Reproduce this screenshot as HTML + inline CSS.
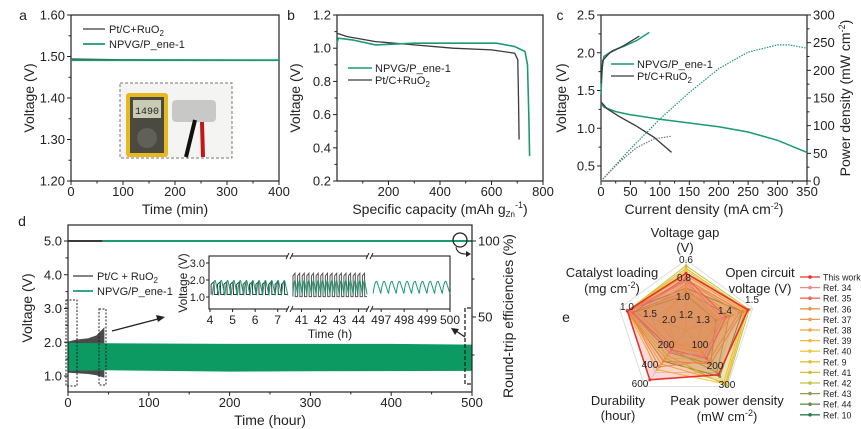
<!DOCTYPE html>
<html><head><meta charset="utf-8"><style>
html,body{margin:0;padding:0;background:#fff;}
svg{display:block;font-family:"Liberation Sans",Arial,sans-serif;}
text{fill:#222;}
</style></head><body>
<svg id="fig" width="861" height="429" viewBox="0 0 861 429"></svg>
<script>
// ---------- DATA ----------
// panel a
const aNpvg = [[0,1.491],[400,1.491]];
const aPtc  = [[0,1.494],[100,1.492],[400,1.491]];
// panel b
const bNpvg = [[0,1.03],[5,1.06],[60,1.05],[150,1.02],[300,1.03],[500,1.03],[620,1.03],[690,1.01],[730,0.98],[740,0.9],[745,0.6],[748,0.35]];
const bPtc  = [[0,1.09],[40,1.07],[150,1.04],[300,1.02],[450,1.0],[600,0.99],[690,0.97],[702,0.93],[705,0.7],[707,0.45]];
// panel c
const cNpvgDis = [[0,1.33],[5,1.28],[25,1.22],[50,1.18],[100,1.12],[150,1.07],[200,1.02],[250,0.95],[300,0.84],[350,0.68]];
const cPtcDis  = [[0,1.35],[10,1.26],[30,1.16],[60,1.03],[90,0.88],[120,0.68]];
const cNpvgChg = [[0,1.45],[2,1.8],[5,1.95],[20,2.03],[40,2.09],[60,2.16],[82,2.27]];
const cPtcChg  = [[0,1.6],[3,1.9],[15,2.0],[40,2.1],[65,2.22]];
const cNpvgPow = [[0,0],[50,58],[100,112],[150,160],[200,203],[250,233],[300,246],[320,246],[350,240]];
const cPtcPow  = [[0,0],[30,33],[60,60],[90,76],[120,81]];
// panel d
const dPtcUpper = [[0,2.02],[10,2.08],[25,2.12],[35,2.2],[45,2.45]];
const dPtcLower = [[0,1.1],[10,1.08],[25,1.06],[35,1.02],[45,0.95]];
const dNpvgUpper= [[0,1.98],[50,1.97],[200,1.95],[400,1.95],[500,1.93]];
const dNpvgLower= [[0,1.15],[50,1.17],[200,1.13],[300,1.14],[500,1.15]];
const dEffPtc = [[0,100],[43,100]];
const dEffNpvg= [[43,100],[500,100]];
// inset cycles
const inset1Cycles = 12, inset2Cycles = 16, inset3Cycles = 10;
const inset1Hi=1.95, inset1Lo=1.1, inset2HiPtc=2.4, inset2LoPtc=1.02, inset2Hi=1.95, inset2Lo=1.15, inset3Hi=1.9, inset3Lo=1.2;
// panel e radar (normalized 0..1 per axis: gap, OCV, power, durability, loading)
const radarAxes = ["gap","ocv","power","durability","loading"];
const radarNames = ["This work","Ref. 34","Ref. 35","Ref. 36","Ref. 37","Ref. 38","Ref. 39","Ref. 40","Ref. 9","Ref. 41","Ref. 42","Ref. 43","Ref. 44","Ref. 10"];
const radarColors = ["#e8302c","#e88a8a","#ee6a5a","#f0904a","#ee9a50","#f0a840","#f2b840","#f0c840","#e8c030","#d8c030","#c8c040","#8aa050","#6a9050","#2e7a50"];
const radarVals = [
 [0.81,0.93,0.79,0.88,0.88],
 [0.70,0.55,0.45,0.40,0.85],
 [0.75,0.60,0.50,0.35,0.80],
 [0.72,0.85,0.60,0.55,0.88],
 [0.70,0.80,0.55,0.65,0.86],
 [0.65,0.70,0.40,0.30,0.70],
 [0.78,0.88,0.92,0.60,0.88],
 [0.85,0.90,0.95,0.70,0.88],
 [0.60,0.50,0.35,0.25,0.40],
 [0.88,0.92,0.96,0.50,0.88],
 [0.92,0.95,0.98,0.45,0.88],
 [0.55,0.65,0.75,0.35,0.82],
 [0.50,0.45,0.60,0.40,0.80],
 [0.60,0.85,0.82,0.55,0.88]
];

// ---------- HELPERS ----------
const NS="http://www.w3.org/2000/svg";
const svg=document.getElementById('fig');
function el(tag,attrs,parent){const e=document.createElementNS(NS,tag);for(const k in attrs)e.setAttribute(k,attrs[k]);(parent||svg).appendChild(e);return e;}
function txt(x,y,s,size,anchor,parent,extra){const t=el('text',Object.assign({x:x,y:y,'font-size':size,'text-anchor':anchor||'middle'},extra||{}),parent);t.innerHTML=s;return t;}
function lin(d0,d1,r0,r1){return v=>r0+(v-d0)*(r1-r0)/(d1-d0);}
function path(pts,sx,sy){return pts.map((p,i)=>(i?'L':'M')+sx(p[0]).toFixed(1)+','+sy(p[1]).toFixed(1)).join('');}
const GREEN="#1a9b6e", DARK="#3a3a3a";

function frame(x0,y0,x1,y1,name){const r=el('rect',{x:x0,y:y0,width:x1-x0,height:y1-y0,fill:'none',stroke:'#222','stroke-width':1.2});}
function xTicks(vals,sx,y,size,minor){vals.forEach(v=>{el('line',{x1:sx(v),x2:sx(v),y1:y,y2:y+4,stroke:'#222'});txt(sx(v),y+15,String(v),size);});(minor||[]).forEach(v=>el('line',{x1:sx(v),x2:sx(v),y1:y,y2:y+2.5,stroke:'#222'}));}
function yTicks(vals,sy,x,size,labels,minor,right){vals.forEach((v,i)=>{el('line',{x1:x,x2:right?x+4:x-4,y1:sy(v),y2:sy(v),stroke:'#222'});txt(right?x+6:x-6,sy(v)+4.5,labels?labels[i]:String(v),size,right?'start':'end');});(minor||[]).forEach(v=>el('line',{x1:x,x2:right?x+2.5:x-2.5,y1:sy(v),y2:sy(v),stroke:'#222'}));}
function vlabel(x,y,s,size,name){const t=txt(x,y,s,size,'middle',null,{transform:'rotate(-90 '+x+' '+y+')'});return t;}

// ---------- PANEL A ----------
{const sx=lin(0,400,71,279), sy=lin(1.2,1.6,181,15);
txt(23,20,'a',14,'middle');
const ph=el('g',{});
el('rect',{x:120,y:83,width:112,height:75,fill:'#f4f4f2',stroke:'#777','stroke-dasharray':'3,2'},ph);
el('rect',{x:126,y:93,width:42,height:64,rx:3,fill:'#e8b820'},ph);
el('rect',{x:130,y:97,width:34,height:56,fill:'#4a4a40'},ph);
el('rect',{x:133,y:100,width:28,height:18,fill:'#c8ccb4'},ph);
txt(147,114,'1490',10,'middle',ph,{'font-family':'Liberation Mono',fill:'#222'});
el('circle',{cx:147,cy:138,r:10,fill:'#606058'},ph);
el('rect',{x:172,y:100,width:44,height:22,rx:4,fill:'#c8c8c8'},ph);
el('line',{x1:195,y1:120,x2:186,y2:157,stroke:'#111','stroke-width':4},ph);
el('line',{x1:202,y1:122,x2:203,y2:157,stroke:'#c01818','stroke-width':4},ph);
frame(71,15,279,181,'plot-frame-a');
yTicks([1.2,1.3,1.4,1.5,1.6],sy,71,13,['1.20','1.30','1.40','1.50','1.60'],[1.25,1.35,1.45,1.55]);
xTicks([0,100,200,300,400],sx,181,13,[50,150,250,350]);
const l1=el('path',{d:path(aPtc,sx,sy),fill:'none',stroke:DARK,'stroke-width':1.3});
const l2=el('path',{d:path(aNpvg,sx,sy),fill:'none',stroke:GREEN,'stroke-width':1.8});
el('line',{x1:83,x2:105,y1:29,y2:29,stroke:DARK,'stroke-width':1.3});txt(109,33,'Pt/C+RuO<tspan font-size="8" dy="3">2</tspan>',11,'start');
el('line',{x1:83,x2:105,y1:44,y2:44,stroke:GREEN,'stroke-width':1.8});txt(109,48,'NPVG/P_ene-1',11,'start');
vlabel(34,98,'Voltage (V)',14,'y-axis-title-a');
txt(175,214,'Time (min)',14);
}
// ---------- PANEL B ----------
{const sx=lin(0,800,337,543), sy=lin(0.2,1.2,181,15);
txt(291,20,'b',14);
frame(337,15,543,181,'plot-frame-b');
yTicks([0.2,0.4,0.6,0.8,1.0,1.2],sy,337,13,['0.2','0.4','0.6','0.8','1.0','1.2'],[0.3,0.5,0.7,0.9,1.1]);
xTicks([200,400,600,800],sx,181,13,[100,300,500,700]);
const l1=el('path',{d:path(bPtc,sx,sy),fill:'none',stroke:DARK,'stroke-width':1.3});
const l2=el('path',{d:path(bNpvg,sx,sy),fill:'none',stroke:GREEN,'stroke-width':1.6});
el('line',{x1:348,x2:372,y1:68,y2:68,stroke:GREEN,'stroke-width':1.6});txt(375,72,'NPVG/P_ene-1',11,'start');
el('line',{x1:348,x2:372,y1:80,y2:80,stroke:DARK,'stroke-width':1.3});txt(375,84,'Pt/C+RuO<tspan font-size="8" dy="3">2</tspan>',11,'start');
vlabel(300,98,'Voltage (V)',14,'y-axis-title-b');
txt(440,214,'Specific capacity (mAh g<tspan font-size="8" dy="3">Zn</tspan><tspan dy="-9" font-size="9">-1</tspan><tspan dy="6">)</tspan>',14);
}
// ---------- PANEL C ----------
{const sx=lin(0,350,601,807), sy=lin(0.5,2.5,166,15), sp=lin(0,300,181,15);
txt(560,20,'c',14);
frame(601,15,807,181,'plot-frame-c');
yTicks([0.5,1.0,1.5,2.0,2.5],sy,601,13,['0.5','1.0','1.5','2.0','2.5'],[0.75,1.25,1.75,2.25]);
yTicks([0,50,100,150,200,250,300],sp,807,13,null,[25,75,125,175,225,275],true);
xTicks([0,50,100,150,200,250,300,350],sx,181,13,[25,75,125,175,225,275,325]);
[[cNpvgDis,GREEN,1.5,'',"line-npvg-discharge"],[cPtcDis,DARK,1.3,'','line-ptc-discharge'],[cNpvgChg,GREEN,1.5,'','line-npvg-charge'],[cPtcChg,DARK,1.3,'','line-ptc-charge']].forEach(s=>{const p=el('path',{d:path(s[0],sx,sy),fill:'none',stroke:s[1],'stroke-width':s[2]});});
const p1=el('path',{d:path(cNpvgPow,sx,sp),fill:'none',stroke:GREEN,'stroke-width':1.2,'stroke-dasharray':'1.5,1.2'});
const p2=el('path',{d:path(cPtcPow,sx,sp),fill:'none',stroke:'#777','stroke-width':1.2,'stroke-dasharray':'1.5,1.2'});
el('line',{x1:611,x2:634,y1:64,y2:64,stroke:GREEN,'stroke-width':1.5});txt(637,68,'NPVG/P_ene-1',11,'start');
el('line',{x1:611,x2:634,y1:76,y2:76,stroke:DARK,'stroke-width':1.3});txt(637,80,'Pt/C+RuO<tspan font-size="8" dy="3">2</tspan>',11,'start');
vlabel(566,98,'Voltage (V)',14,'y-axis-title-c');
vlabel(850,98,'Power density (mW cm<tspan font-size="9" dy="-5">-2</tspan><tspan dy="5">)</tspan>',14,'y-axis-title-power');
txt(704,214,'Current density (mA cm<tspan font-size="9" dy="-5">-2</tspan><tspan dy="5">)</tspan>',14);
}
// ---------- PANEL D ----------
{const sx=lin(0,500,68,472), sy=lin(1.0,5.0,376,241), se=lin(0,100,393,241);
txt(22,226,'d',14);
const pb=el('path',{d:path(dPtcUpper.concat(dPtcLower.slice().reverse()),sx,sy)+'Z',fill:'#4a4a4a'});
const pg=el('path',{d:path(dNpvgUpper.concat(dNpvgLower.slice().reverse()),sx,sy)+'Z',fill:'#0c9a62'});
const e1=el('path',{d:path(dEffPtc,sx,se),stroke:DARK,'stroke-width':2,fill:'none'});
const e2=el('path',{d:path(dEffNpvg,sx,se),stroke:GREEN,'stroke-width':2,fill:'none'});
frame(68,225,472,392,'plot-frame-d');
yTicks([1,2,3,4,5],sy,68,13,['1.0','2.0','3.0','4.0','5.0'],[1.5,2.5,3.5,4.5]);
yTicks([50,100],se,472,13,null,[25,75],true);
xTicks([0,100,200,300,400,500],sx,392,13,[50,150,250,350,450]);
el('rect',{x:66,y:300,width:11,height:86,fill:'none',stroke:'#222','stroke-dasharray':'2,1.5'});
el('rect',{x:99,y:309,width:7,height:76,fill:'none',stroke:'#222','stroke-dasharray':'2,1.5'});
el('path',{d:'M471,308 L465,308 L465,384 L471,384',fill:'none',stroke:'#222','stroke-dasharray':'4,2','stroke-width':1.3});
el('circle',{cx:460,cy:240,r:7,fill:'none',stroke:'#222','stroke-width':1.3});
el('path',{d:'M456,247 Q457,254 466,254',fill:'none',stroke:'#222'});el('path',{d:'M466,251 L471,254 L466,257Z',fill:'#222'});
el('line',{x1:112,y1:331,x2:158,y2:319,stroke:'#222','stroke-width':1.3});el('path',{d:'M165,317 L156,315 L158,322Z',fill:'#222'});
el('line',{x1:465,y1:337,x2:456,y2:331,stroke:'#222','stroke-width':1.3});el('path',{d:'M451,328 L455,335 L459,329Z',fill:'#222'});
el('line',{x1:73,x2:93,y1:276,y2:276,stroke:DARK,'stroke-width':1.3});txt(97,280,'Pt/C + RuO<tspan font-size="8" dy="3">2</tspan>',11,'start');
el('line',{x1:73,x2:93,y1:291,y2:291,stroke:GREEN,'stroke-width':1.8});txt(97,295,'NPVG/P_ene-1',11,'start');
vlabel(32,308,'Voltage (V)',14,'y-axis-title-d');
vlabel(513,316,'Round-trip efficiencies (%)',14,'y-axis-title-efficiency');
txt(270,425,'Time (hour)',14);
const ix0=209,ix1=450,iy0=256,iy1=309;
const isy=lin(1.0,3.0,297,263);
const ins=el('g',{});
el('rect',{x:ix0,y:iy0,width:ix1-ix0,height:iy1-iy0,fill:'#fff',stroke:'#222','stroke-width':1.1},ins);
const s1=lin(4,7.5,210,289), s2=lin(40.5,44.5,292,368), s3=lin(496.6,500,372,450);
function square(n,a,b,sxf,hi,lo,col,smooth){let d='';const step=(b-a)/n;for(let i=0;i<n;i++){const t=a+i*step;if(smooth){d+=(i?'L':'M')+sxf(t)+','+isy(lo)+' Q'+sxf(t+step*0.25)+','+isy(hi+0.15)+' '+sxf(t+step*0.5)+','+isy(hi)+' L'+sxf(t+step)+','+isy(lo);}else{d+=(i?'L':'M')+sxf(t)+','+isy(lo)+' L'+sxf(t)+','+isy(hi-0.15)+' L'+sxf(t+step*0.45)+','+isy(hi)+' L'+sxf(t+step*0.5)+','+isy(lo)+' L'+sxf(t+step)+','+isy(lo);}}return el('path',{d:d,fill:'none',stroke:col,'stroke-width':1},ins);}
square(inset1Cycles,4.05,7.45,s1,inset1Hi-0.05,inset1Lo+0.05,DARK,false);
square(inset1Cycles,4.1,7.45,s1,inset1Hi,inset1Lo,GREEN,true);
square(inset2Cycles,40.55,44.45,s2,inset2HiPtc,inset2LoPtc,'#555',false);
square(inset2Cycles,40.55,44.45,s2,inset2Hi,inset2Lo,GREEN,true);
square(inset3Cycles,496.65,500,s3,inset3Hi,inset3Lo,GREEN,true);
[[290,'break-1'],[370,'break-2']].forEach(b=>{el('rect',{x:b[0]-2,y:iy0-3,width:4,height:6,fill:'#fff'},ins);el('rect',{x:b[0]-2,y:iy1-3,width:4,height:6,fill:'#fff'},ins);['M'+(b[0]-4)+','+(iy0+3)+' L'+(b[0]-1)+','+(iy0-3),'M'+(b[0]+0)+','+(iy0+3)+' L'+(b[0]+3)+','+(iy0-3),'M'+(b[0]-4)+','+(iy1+3)+' L'+(b[0]-1)+','+(iy1-3),'M'+(b[0]+0)+','+(iy1+3)+' L'+(b[0]+3)+','+(iy1-3)].forEach(d=>el('path',{d:d,stroke:'#222',fill:'none'},ins));});
[1,2,3].forEach(v=>{el('line',{x1:ix0,x2:ix0-3,y1:isy(v),y2:isy(v),stroke:'#222'},ins);txt(ix0-4,isy(v)+4,v.toFixed(1),11,'end',ins);});
[[4,s1],[5,s1],[6,s1],[7,s1],[41,s2],[42,s2],[43,s2],[44,s2],[497,s3],[498,s3],[499,s3],[500,s3]].forEach(t=>{el('line',{x1:t[1](t[0]),x2:t[1](t[0]),y1:iy1,y2:iy1+3,stroke:'#222'},ins);txt(t[1](t[0]),iy1+15,String(t[0]),12,'middle',ins);});
txt(187,283,'Voltage (V)',12,'middle',ins,{transform:'rotate(-90 187 283)'});
txt(330,338,'Time (h)',12,'middle',ins);
}
// ---------- PANEL E ----------
{const cx=686, cy=330, R=70;
txt(566,322,'e',14);
const ang=i=>(-90+72*i)*Math.PI/180;
const pt=(i,r)=>[cx+R*r*Math.cos(ang(i)),cy+R*r*Math.sin(ang(i))];
const g=el('g',{});
[0.25,0.5,0.75,1].forEach(l=>el('polygon',{points:[0,1,2,3,4].map(i=>pt(i,l).join(',')).join(' '),fill:'none',stroke:'#ddd'},g));
[0,1,2,3,4].forEach(i=>{const p=pt(i,1);el('line',{x1:cx,y1:cy,x2:p[0],y2:p[1],stroke:'#ddd'},g);});
for(let s=radarVals.length-1;s>=0;s--){const v=radarVals[s];const pg=el('polygon',{points:v.map((r,i)=>pt(i,r).join(',')).join(' '),fill:radarColors[s],'fill-opacity':s===0?0.18:0.12,stroke:radarColors[s],'stroke-width':s===0?1.6:1},g);v.forEach((r,i)=>{const p=pt(i,r);el('circle',{cx:p[0],cy:p[1],r:1.5,fill:radarColors[s]},g);});}
[['0.6',686,263],['0.8',684,281],['1.0',683,300],['1.5',752,303],['1.4',725,314],['1.3',703,323],['300',727,388],['200',715,369],['100',700,348],['600',640,387],['400',650,368],['200',666,348],['1.0',627,310],['1.5',650,317],['2.0',669,323],['1.2',686,318]].forEach(t=>txt(t[1],t[2],t[0],10,'middle',g));
txt(685,237,'Voltage gap',13);txt(685,252,'(V)',13);
txt(760,277,'Open circuit',13);txt(760,293,'voltage (V)',13);
txt(612,277,'Catalyst loading',13);txt(612,293,'(mg cm<tspan font-size="9" dy="-5">-2</tspan><tspan dy="5">)</tspan>',13);
txt(618,405,'Durability',13);txt(618,420,'(hour)',13);
txt(727,405,'Peak power density',13);txt(727,421,'(mW cm<tspan font-size="9" dy="-5">-2</tspan><tspan dy="5">)</tspan>',13);
radarNames.forEach((n,i)=>{const y=277+i*10.6;const le=el('g',{});el('line',{x1:800,x2:820,y1:y,y2:y,stroke:radarColors[i],'stroke-width':1.3},le);el('circle',{cx:810,cy:y,r:1.8,fill:radarColors[i]},le);txt(823,y+3.5,n,8.8,'start',le);});
}
</script>
</body></html>
